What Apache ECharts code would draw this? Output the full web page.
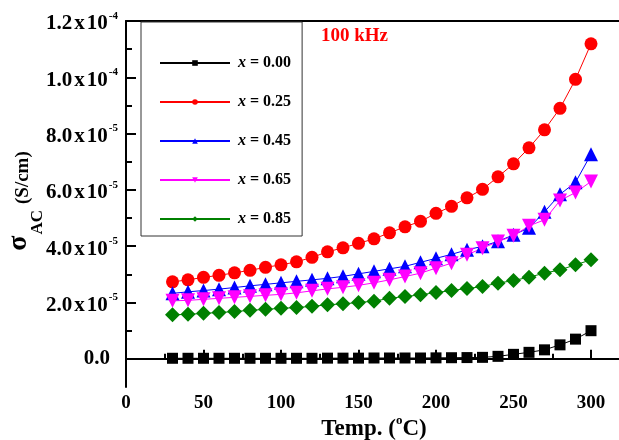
<!DOCTYPE html>
<html>
<head>
<meta charset="utf-8">
<script src="https://cdn.jsdelivr.net/npm/echarts@6/dist/echarts.min.js"></script>
<style>
  html, body { margin: 0; padding: 0; background: #fff; }
  #chart { width: 619px; height: 440px; }
</style>
</head>
<body>
<div id="chart"></div>
<script>
// temperature (°C)
const temps = [30, 40, 50, 60, 70, 80, 90, 100, 110, 120, 130, 140, 150, 160, 170,
  180, 190, 200, 210, 220, 230, 240, 250, 260, 270, 280, 290, 300];

// sigma_AC in units of 1e-5 S/cm
const sig000 = [0.02, 0.02, 0.02, 0.02, 0.02, 0.02, 0.02, 0.02, 0.02, 0.02, 0.025, 0.025, 0.025, 0.03,
  0.03, 0.03, 0.03, 0.035, 0.04, 0.045, 0.053, 0.089, 0.16, 0.231, 0.32, 0.497, 0.70, 1.0];
const sig025 = [2.735, 2.806, 2.895, 2.966, 3.055, 3.144, 3.25, 3.339, 3.445, 3.605, 3.801, 3.943, 4.103, 4.262,
  4.476, 4.689, 4.884, 5.168, 5.417, 5.719, 6.021, 6.465, 6.926, 7.495, 8.134, 8.898, 9.928, 11.19];
const sig045 = [2.327, 2.38, 2.426, 2.476, 2.533, 2.593, 2.646, 2.70, 2.753, 2.806, 2.859, 2.93, 3.019, 3.108,
  3.197, 3.286, 3.428, 3.57, 3.712, 3.872, 3.996, 4.174, 4.404, 4.653, 5.221, 5.843, 6.269, 7.264];
const sig065 = [2.06, 2.078, 2.113, 2.149, 2.184, 2.22, 2.256, 2.291, 2.344, 2.415, 2.486, 2.54, 2.611, 2.70,
  2.806, 2.923, 3.044, 3.222, 3.399, 3.694, 3.932, 4.166, 4.369, 4.724, 4.937, 5.623, 5.907, 6.298];
const sig085 = [1.563, 1.581, 1.616, 1.645, 1.68, 1.723, 1.758, 1.794, 1.822, 1.865, 1.918, 1.954, 2.0, 2.05,
  2.149, 2.213, 2.273, 2.355, 2.426, 2.497, 2.568, 2.689, 2.781, 2.902, 3.044, 3.161, 3.339, 3.516];

const xTicks = [0, 50, 100, 150, 200, 250, 300];
const xMinorTicks = [25, 75, 125, 175, 225, 275];
const yTicks = [0, 2, 4, 6, 8, 10, 12];
const yMinorTicks = [1, 3, 5, 7, 9, 11];
const yTickMant = ['0.0', '2.0', '4.0', '6.0', '8.0', '1.0', '1.2'];
const yTickExp = ['', '-5', '-5', '-5', '-5', '-4', '-4'];

const FONT = 'Liberation Serif';

const seriesDefs = [
  { name: 'x = 0.00', data: sig000, color: '#000000', symbol: 'rect', size: 11, rotate: 0 },
  { name: 'x = 0.25', data: sig025, color: '#ff0000', symbol: 'circle', size: 13, rotate: 0 },
  { name: 'x = 0.45', data: sig045, color: '#0000ff', symbol: 'triangle', size: 14, rotate: 0 },
  { name: 'x = 0.65', data: sig065, color: '#ff00ff', symbol: 'triangle', size: 14, rotate: 180 },
  { name: 'x = 0.85', data: sig085, color: '#008000', symbol: 'diamond', size: 15, rotate: 0 }
];

const chart = echarts.init(document.getElementById('chart'));

const option = {
  animation: false,
  backgroundColor: '#fff',
  title: {
    text: '100 kHz',
    left: 321,
    top: 27,
    padding: 0,
    textStyle: { color: '#ff0000', fontFamily: FONT, fontWeight: 'bold', fontSize: 19 }
  },
  legend: {
    orient: 'vertical',
    left: 141,
    top: 22,
    padding: [31, 11, 7, 18],
    borderColor: '#333',
    borderWidth: 1,
    itemWidth: 70,
    itemHeight: 7,
    itemGap: 19,
    data: seriesDefs.map(d => d.name),
    formatter: name => '{i|x}{n|' + name.slice(1) + '}',
    textStyle: {
      lineHeight: 20,
      padding: [0, 0, 0, 3],
      rich: {
        i: { fontFamily: FONT, fontStyle: 'italic', fontWeight: 'bold', fontSize: 16, color: '#000' },
        n: { fontFamily: FONT, fontWeight: 'bold', fontSize: 16, color: '#000' }
      }
    }
  },
  grid: { left: 126, right: -3, top: 21, bottom: 53, outerBoundsMode: 'none' },
  xAxis: [
    {
      type: 'value',
      position: 'bottom',
      min: 0,
      max: 320,
      splitLine: { show: false },
      axisLine: { show: true, lineStyle: { color: '#000', width: 2 } },
      axisTick: { inside: true, length: 9, customValues: xTicks, lineStyle: { color: '#000', width: 2 } },
      axisLabel: {
        customValues: xTicks,
        margin: 7,
        color: '#000',
        fontFamily: FONT,
        fontWeight: 'bold',
        fontSize: 19
      },
      name: '{a|Temp. (}{s|o}{a|C)}',
      nameLocation: 'middle',
      nameGap: 27,
      nameMoveOverlap: false,
      nameTextStyle: {
        rich: {
          a: { fontFamily: FONT, fontWeight: 'bold', fontSize: 23, color: '#000', verticalAlign: 'bottom', padding: [4, 0, 0, 0] },
          s: { fontFamily: FONT, fontWeight: 'bold', fontSize: 13, color: '#000', verticalAlign: 'top' }
        }
      }
    },
    {
      type: 'value',
      position: 'bottom',
      min: 0,
      max: 320,
      splitLine: { show: false },
      axisLine: { show: false },
      axisTick: { inside: true, length: 5, customValues: xMinorTicks, lineStyle: { color: '#000', width: 2 } },
      axisLabel: { show: false }
    },
    {
      type: 'value',
      position: 'top',
      min: 0,
      max: 320,
      splitLine: { show: false },
      axisLine: { show: true, lineStyle: { color: '#000', width: 2 } },
      axisTick: { show: false },
      axisLabel: { show: false }
    }
  ],
  yAxis: [
    {
      type: 'value',
      position: 'left',
      min: -1,
      max: 12,
      splitLine: { show: false },
      axisLine: { show: true, lineStyle: { color: '#000', width: 2 } },
      axisTick: { inside: true, length: 10, customValues: yTicks, lineStyle: { color: '#000', width: 2 } },
      axisLabel: {
        customValues: yTicks,
        margin: 8,
        formatter: v => {
          const i = yTicks.indexOf(v);
          if (i < 0) return '';
          if (!yTickExp[i]) return '{a|' + yTickMant[i] + '}{g|}';
          return '{a|' + yTickMant[i] + '}{x|x}{a|10}{s|' + yTickExp[i] + '}';
        },
        rich: {
          a: { fontFamily: FONT, fontWeight: 'bold', fontSize: 21, color: '#000', verticalAlign: 'bottom' },
          x: { fontFamily: FONT, fontWeight: 'bold', fontSize: 21, color: '#000', verticalAlign: 'bottom', padding: [0, 2, 0, 2] },
          s: { fontFamily: FONT, fontWeight: 'bold', fontSize: 11, color: '#000', lineHeight: 27, verticalAlign: 'top', padding: [3, 0, 0, 1] },
          g: { width: 8 }
        }
      },
      name: '{s|σ}{b|AC}{p|(S/cm)}',
      nameLocation: 'middle',
      nameRotate: 90,
      nameGap: 80,
      nameMoveOverlap: false,
      nameTextStyle: {
        padding: [0, 0, 0, 6],
        rich: {
          s: { fontFamily: FONT, fontWeight: 'bold', fontSize: 28, color: '#000', verticalAlign: 'bottom', padding: [0, 1, 13, 0] },
          b: { fontFamily: FONT, fontWeight: 'bold', fontSize: 17, color: '#000', verticalAlign: 'bottom' },
          p: { fontFamily: FONT, fontWeight: 'bold', fontSize: 19, color: '#000', verticalAlign: 'bottom', padding: [0, 0, 13, 6] }
        }
      }
    },
    {
      type: 'value',
      position: 'left',
      min: -1,
      max: 12,
      splitLine: { show: false },
      axisLine: { show: false },
      axisTick: { inside: true, length: 6, customValues: yMinorTicks, lineStyle: { color: '#000', width: 2 } },
      axisLabel: { show: false }
    }
  ],
  series: seriesDefs.map(d => ({
    name: d.name,
    type: 'line',
    xAxisIndex: 0,
    yAxisIndex: 0,
    data: temps.map((t, i) => [t, d.data[i]]),
    symbol: d.symbol,
    symbolSize: d.size,
    symbolRotate: d.rotate,
    showAllSymbol: true,
    color: d.color,
    lineStyle: { color: d.color, width: 1 },
    itemStyle: { color: d.color },
    emphasis: { disabled: true }
  }))
};

chart.setOption(option);
</script>
</body>
</html>
